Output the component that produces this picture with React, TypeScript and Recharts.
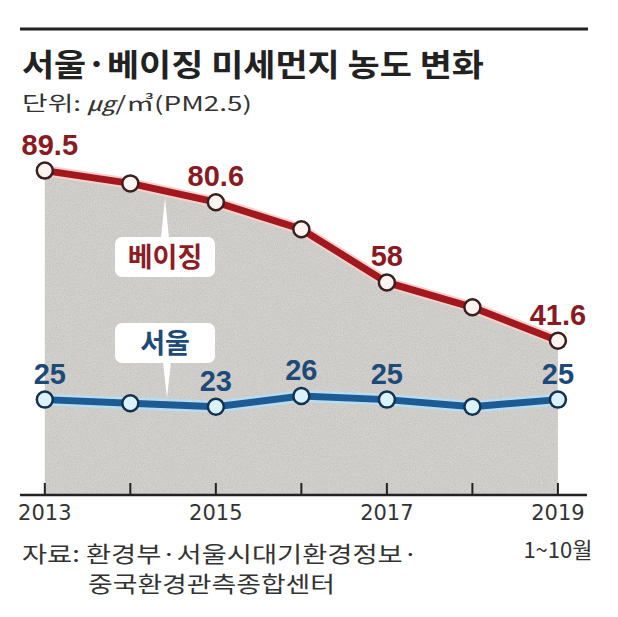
import { Area, ComposedChart, LabelList, Line, XAxis, YAxis } from "recharts";

// 연도별 PM2.5 농도 (㎍/㎥)
const years = [2013, 2014, 2015, 2016, 2017, 2018, 2019];
const beijing = [89.5, 85.9, 80.6, 73, 58, 51, 41.6];
const seoul = [25, 24, 23, 26, 25, 23, 25];

// 값을 표시하는 연도 / 눈금 글자가 붙는 연도
const beijingLabelYears = [2013, 2015, 2017, 2019];
const seoulLabelYears = [2013, 2015, 2016, 2017, 2019];
const tickLabelYears = [2013, 2015, 2017, 2019];

const data = years.map((year, i) => ({
	year,
	beijing: beijing[i],
	seoul: seoul[i],
}));

const KR = "'Noto Sans CJK KR', 'Noto Sans', sans-serif";
const NUM = "'Liberation Sans', Arial, sans-serif";

function YearTick(props: any) {
	const { x, y, payload } = props;
	const yr = payload.value;
	return (
		<g>
			<line x1={x} x2={x} y1={y - 12} y2={y} stroke="#222" strokeWidth={2} />
			{tickLabelYears.includes(yr) && (
				<text
					x={x}
					y={y + 25}
					textAnchor="middle"
					fontFamily="'DejaVu Sans', sans-serif"
					fontSize={21}
					fill="#333"
				>
					{yr}
				</text>
			)}
			{yr === 2019 && (
				<text
					x={x}
					y={y + 63}
					textAnchor="middle"
					fontFamily={KR}
					fontSize={22}
					fill="#333"
				>
					1~10월
				</text>
			)}
		</g>
	);
}

const makeLabel = (shown: number[], color: string) => (props: any) => {
	const { x, y, value, index } = props;
	if (!shown.includes(years[index])) return null;
	return (
		<text
			x={x + (index === 0 ? 5 : 0)}
			y={y - 16}
			textAnchor="middle"
			fontFamily={NUM}
			fontWeight={700}
			fontSize={29}
			fill={color}
		>
			{value}
		</text>
	);
};

export default function App() {
	return (
		<div
			style={{
				position: "absolute",
				left: 0,
				top: 0,
				width: 618,
				height: 617,
				background: "#fff",
			}}
		>
			<svg width={0} height={0} style={{ position: "absolute" }}>
				<defs>
					<filter id="grain" x="0" y="0" width="100%" height="100%">
						<feTurbulence type="fractalNoise" baseFrequency="0.85" numOctaves={2} seed={4} result="noise" />
						<feColorMatrix in="noise" type="saturate" values="0" result="gray" />
						<feComponentTransfer in="gray" result="g2">
							<feFuncA type="table" tableValues="0 0.45" />
						</feComponentTransfer>
						<feComposite in="g2" in2="SourceGraphic" operator="in" result="clip" />
						<feMerge>
							<feMergeNode in="SourceGraphic" />
							<feMergeNode in="clip" />
						</feMerge>
					</filter>
				</defs>
			</svg>
			<ComposedChart
				width={618}
				height={617}
				data={data}
				margin={{ top: 150, right: 31, bottom: 82, left: 20 }}
			>
				<XAxis
					dataKey="year"
					type="number"
					domain={[2012.71, 2019.34]}
					ticks={years}
					interval={0}
					allowDataOverflow
					tick={<YearTick />}
					tickSize={0}
					tickMargin={0}
					tickLine={false}
					axisLine={{ stroke: "#222", strokeWidth: 2.5 }}
					height={40}
				/>
				<YAxis hide width={0} domain={[-1.86, 95.3]} allowDataOverflow />
				<Area
					type="linear"
					dataKey="beijing"
					baseValue="dataMin"
					fill="#d3d1cd"
					fillOpacity={1}
					stroke="none"
					filter="url(#grain)"
					isAnimationActive={false}
					activeDot={false}
				/>
				<Line
					type="linear"
					dataKey="beijing"
					stroke="#f5d0cb"
					strokeWidth={11}
					dot={false}
					activeDot={false}
					isAnimationActive={false}
				/>
				<Line
					type="linear"
					dataKey="beijing"
					stroke="#a3171e"
					strokeWidth={7}
					dot={{ r: 8, fill: "#fff4f2", stroke: "#3b1f1f", strokeWidth: 2.5 }}
					activeDot={false}
					isAnimationActive={false}
				>
					<LabelList dataKey="beijing" content={makeLabel(beijingLabelYears, "#8a1a22")} />
				</Line>
				<Line
					type="linear"
					dataKey="seoul"
					stroke="#b9dcef"
					strokeWidth={12}
					dot={false}
					activeDot={false}
					isAnimationActive={false}
				/>
				<Line
					type="linear"
					dataKey="seoul"
					stroke="#1d5b95"
					strokeWidth={7}
					dot={{ r: 8, fill: "#d9f2fb", stroke: "#14324f", strokeWidth: 2.5 }}
					activeDot={false}
					isAnimationActive={false}
				>
					<LabelList dataKey="seoul" content={makeLabel(seoulLabelYears, "#1d4a78")} />
				</Line>
			</ComposedChart>

			<svg
				width={618}
				height={617}
				style={{ position: "absolute", left: 0, top: 0, pointerEvents: "none" }}
			>
				<line x1={20} x2={588} y1={29} y2={29} stroke="#222" strokeWidth={3} />
				<text
					x={22}
					y={76}
					fontFamily={KR}
					fontWeight={700}
					fontSize={31}
					fill="#222"
					textLength={462}
					lengthAdjust="spacingAndGlyphs"
				>
					서울·베이징 미세먼지 농도 변화
				</text>
				<text
					x={22}
					y={111}
					fontFamily={KR}
					fontSize={20}
					fill="#333"
					textLength={230}
					lengthAdjust="spacingAndGlyphs"
				>
					단위: <tspan fontStyle="italic">㎍</tspan>/㎥(PM2.5)
				</text>

				{/* 베이징 말풍선 */}
				<path d="M161 238 L165 198 L169 238 Z" fill="#fff" />
				<rect x={115} y={237} width={100} height={40} rx={7} fill="#fff" />
				<text
					x={165}
					y={267}
					textAnchor="middle"
					fontFamily={KR}
					fontWeight={700}
					fontSize={27}
					fill="#8d1c24"
				>
					베이징
				</text>

				{/* 서울 말풍선 */}
				<path d="M163 362 L167 398 L171 362 Z" fill="#fff" />
				<rect x={115} y={323} width={100} height={40} rx={7} fill="#fff" />
				<text
					x={165}
					y={353}
					textAnchor="middle"
					fontFamily={KR}
					fontWeight={700}
					fontSize={27}
					fill="#1d4a78"
				>
					서울
				</text>

				<text
					x={22}
					y={562}
					fontFamily={KR}
					fontSize={22}
					fill="#333"
					textLength={396}
					lengthAdjust="spacingAndGlyphs"
				>
					자료: 환경부·서울시대기환경정보·
				</text>
				<text
					x={88}
					y={592}
					fontFamily={KR}
					fontSize={22}
					fill="#333"
					textLength={247}
					lengthAdjust="spacingAndGlyphs"
				>
					중국환경관측종합센터
				</text>
			</svg>
		</div>
	);
}
